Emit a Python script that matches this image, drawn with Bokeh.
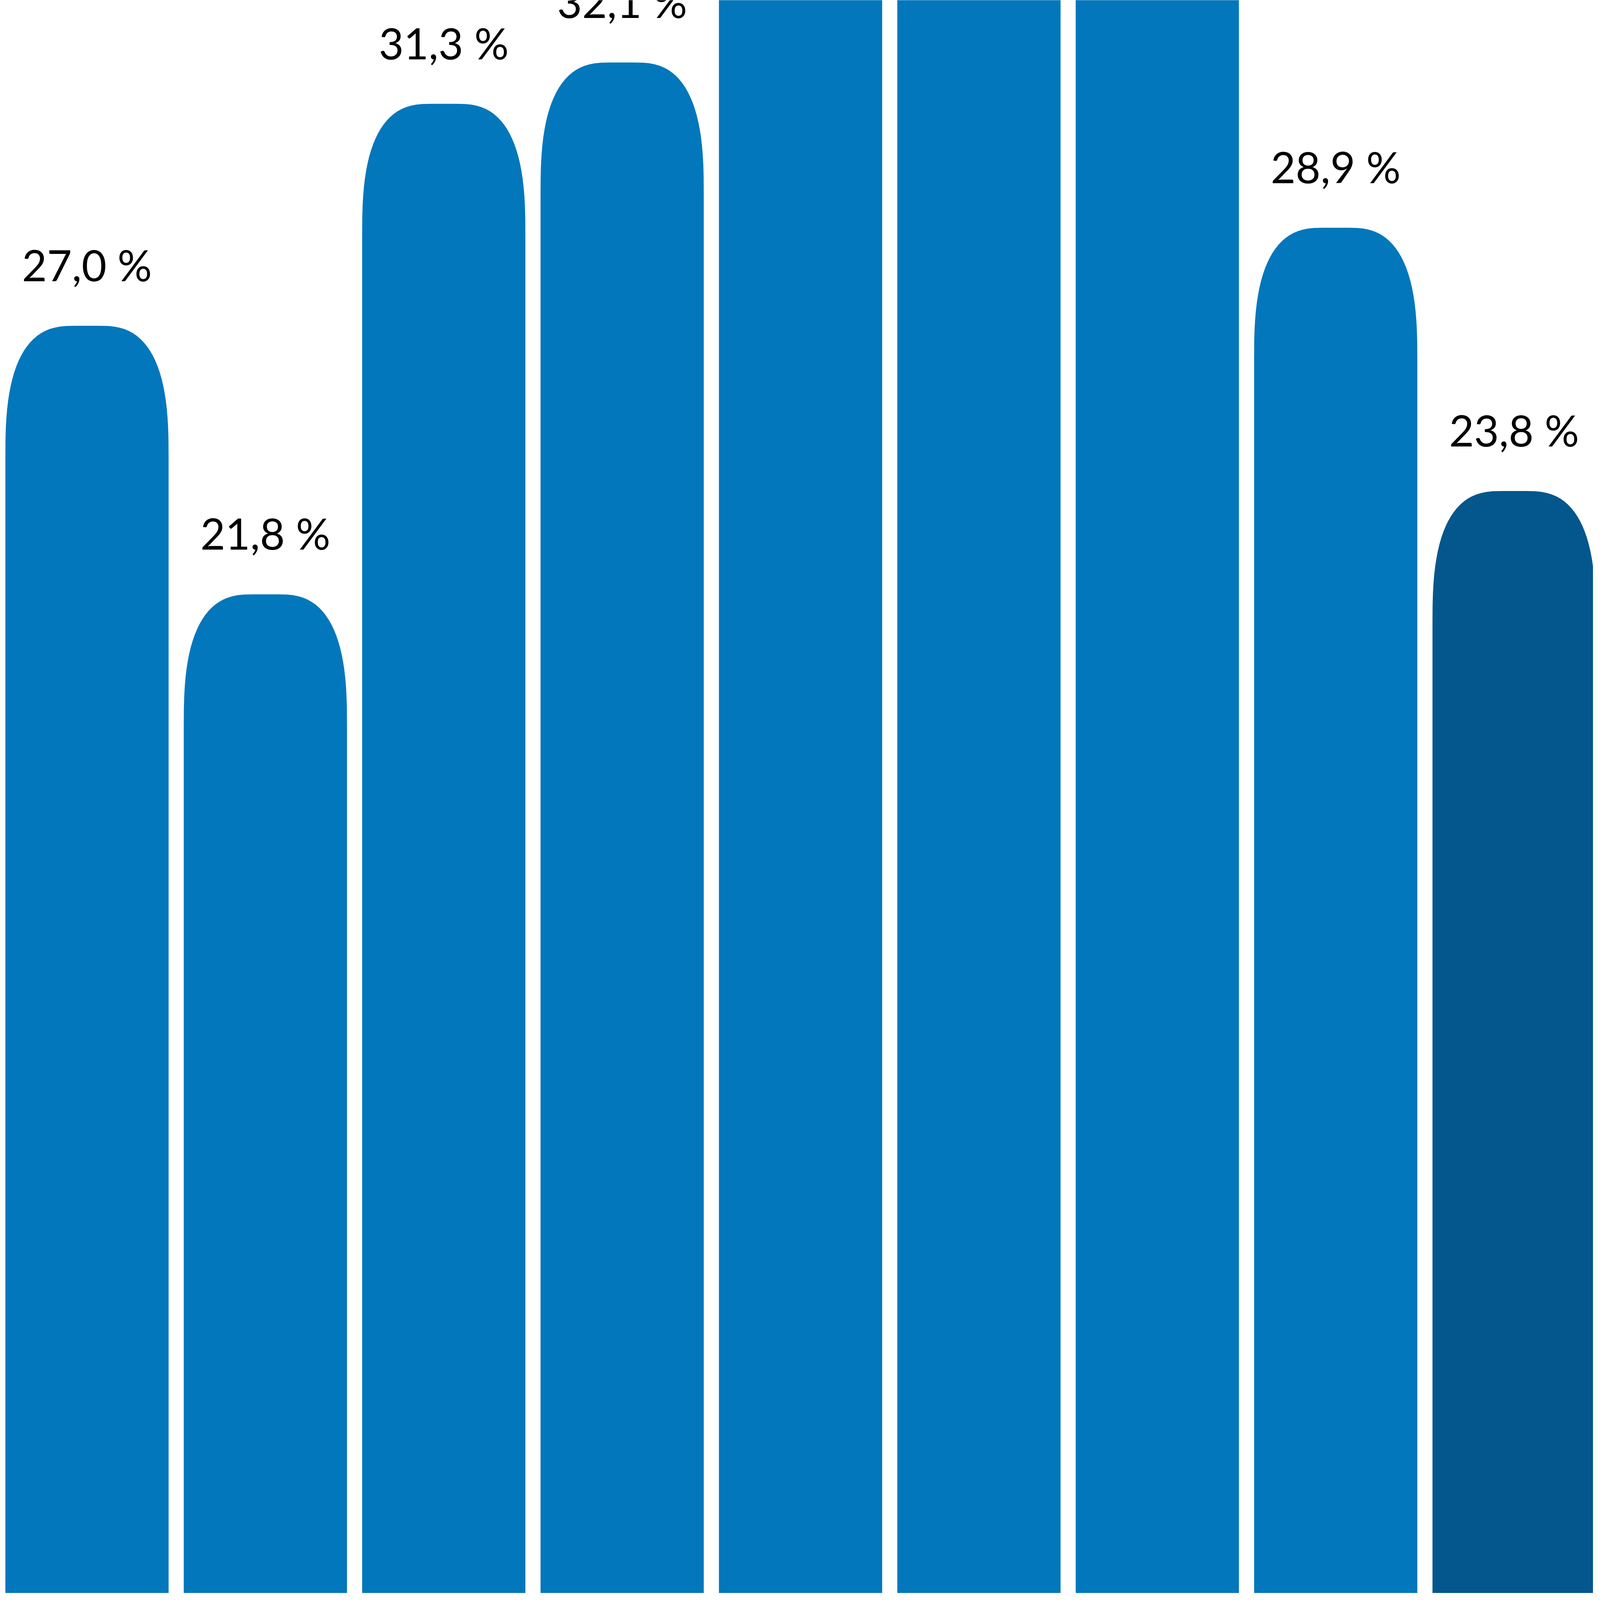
import math
from bokeh.plotting import figure
from bokeh.models import ColumnDataSource, Range1d
from bokeh.embed import file_html
from bokeh.resources import INLINE
from bokeh.core.properties import value

# --- data -------------------------------------------------------------
categories = ["1", "2", "3", "4", "5", "6", "7", "8", "9"]
values = [27.0, 21.8, 31.3, 32.1, 36.4, 37.6, 35.8, 28.9, 23.8]
highlight_index = 8  # last bar drawn in the darker blue

# --- styling -----------------------------------------------------------
BLUE = "#0377bc"
DARK = "#04578c"
X_START, X_END = -0.4865, 8.4432
Y_START, Y_END = 2.456, 33.306
BAR_W = 0.915          # in category units
CORNER_X = 0.39        # corner extent, category units
CORNER_Y = 2.55        # corner extent, value units
SQUIRCLE_N = 2.7
STEPS = 24

def fmt(v):
    return ("%.1f" % v).replace(".", ",") + " %"

def rounded_bar(xc, top):
    """Outline of a bar whose top corners are superellipse-rounded (data units)."""
    x0, x1 = xc - BAR_W / 2, xc + BAR_W / 2
    px, py = [x0], [0.0]
    cx, cy = x0 + CORNER_X, top - CORNER_Y
    for k in range(STEPS + 1):            # left corner, bottom -> top
        t = (math.pi / 2) * k / STEPS
        px.append(cx - CORNER_X * math.cos(t) ** (2 / SQUIRCLE_N))
        py.append(cy + CORNER_Y * math.sin(t) ** (2 / SQUIRCLE_N))
    cx = x1 - CORNER_X
    for k in range(STEPS, -1, -1):        # right corner, top -> bottom
        t = (math.pi / 2) * k / STEPS
        px.append(cx + CORNER_X * math.cos(t) ** (2 / SQUIRCLE_N))
        py.append(cy + CORNER_Y * math.sin(t) ** (2 / SQUIRCLE_N))
    px.append(x1)
    py.append(0.0)
    return px, py

xs = list(range(len(categories)))
outlines = [rounded_bar(x, v) for x, v in zip(xs, values)]
bars = ColumnDataSource(dict(
    xs=[o[0] for o in outlines],
    ys=[o[1] for o in outlines],
    cat=categories,
    color=[DARK if i == highlight_index else BLUE for i in xs],
))
labels = ColumnDataSource(dict(
    x=xs, top=values, label=[fmt(v) for v in values],
))

W, H = 4078, 4078
p = figure(width=W, height=H, output_backend="svg", toolbar_location=None,
           x_range=Range1d(X_START, X_END), y_range=Range1d(Y_START, Y_END),
           min_border=0, min_border_left=0, min_border_right=0,
           min_border_top=0, min_border_bottom=0,
           x_axis_location=None, y_axis_location=None)
p.grid.visible = False
p.outline_line_color = None
p.background_fill_color = "white"
p.border_fill_color = "white"

p.patches(xs="xs", ys="ys", source=bars, fill_color="color", line_color=None)

p.text(x="x", y="top", text="label", source=labels,
       text_font=value("Lato"), text_font_size=value("110px"),
       text_align="center", text_baseline="alphabetic",
       y_offset=-157, text_color="#000000")

open("out.html", "w").write(file_html(p, INLINE))
